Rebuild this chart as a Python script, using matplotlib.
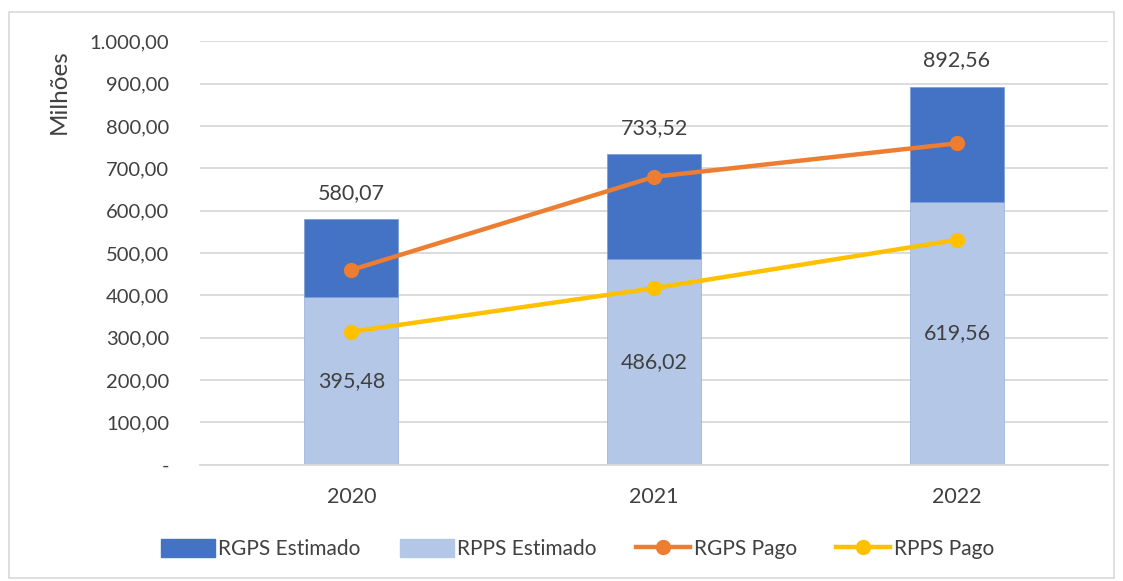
import matplotlib.pyplot as plt
from matplotlib.patches import Rectangle
from matplotlib.lines import Line2D
from matplotlib.ticker import FuncFormatter
import numpy as np

plt.rcParams['font.family'] = ['Lato', 'DejaVu Sans']

# data
anos = ['2020', '2021', '2022']
rpps_estimado = [395.48, 486.02, 619.56]
total_estimado = [580.07, 733.52, 892.56]
rgps_pago = [460, 680, 759]
rpps_pago = [314, 417, 531]

rgps_estimado = [t - r for t, r in zip(total_estimado, rpps_estimado)]

c_rgps = '#4472C4'
c_rpps = '#B4C7E7'
c_rgps_pago = '#ED7D31'
c_rpps_pago = '#FFC000'
txt = '#404040'

def br(v, pos=None):
    if v == 0:
        return '-'
    s = '{:,.2f}'.format(v)
    return s.replace(',', 'X').replace('.', ',').replace('X', '.')

fig = plt.figure(figsize=(11.23, 5.81), dpi=100)
ax = fig.add_axes([0.178, 0.2, 0.809, 0.729])

# border around chart area
fig.patches.append(Rectangle((0.008, 0.006), 0.984, 0.973, transform=fig.transFigure,
                             fill=False, edgecolor='#d9d9d9', linewidth=1.2))

x = np.arange(len(anos))
w = 0.31
ax.bar(x, rpps_estimado, w, color=c_rpps, zorder=2, edgecolor='#9fb6df', linewidth=0.6)
ax.bar(x, rgps_estimado, w, bottom=rpps_estimado, color=c_rgps, zorder=2,
       edgecolor='#7f9fd6', linewidth=0.6)
ax.plot(x, rgps_pago, color=c_rgps_pago, lw=3.2, marker='o', ms=10, zorder=3)
ax.plot(x, rpps_pago, color=c_rpps_pago, lw=3.2, marker='o', ms=10, zorder=3)

# labels
for i in range(len(anos)):
    ax.annotate(br(total_estimado[i]), (x[i], total_estimado[i]), xytext=(0, 19),
                textcoords='offset points', ha='center', va='center', fontsize=15.5, color=txt)
    ax.text(x[i], rpps_estimado[i] / 2, br(rpps_estimado[i]), ha='center', va='center',
            fontsize=15.5, color=txt, zorder=4)

ax.set_ylim(0, 1000)
ax.set_xlim(-0.5, 2.5)
ax.set_yticks(np.arange(0, 1001, 100))
ax.yaxis.set_major_formatter(FuncFormatter(br))
ax.set_xticks(x)
ax.set_xticklabels(anos)
ax.tick_params(length=0, colors=txt)
ax.tick_params(axis='x', pad=16, labelsize=15.5)
ax.tick_params(axis='y', pad=22, labelsize=14.5)
ax.grid(axis='y', color='#d9d9d9', lw=1.3, zorder=0)
for s in ['top', 'right', 'left']:
    ax.spines[s].set_visible(False)
ax.spines['bottom'].set_color('#d9d9d9')
ax.spines['bottom'].set_linewidth(1.3)

ax.set_ylabel('Milhões', fontsize=17.5, color=txt)
ax.yaxis.set_label_coords(-0.143, 0.88)

handles = [
    Rectangle((0, 0), 1, 1, color=c_rgps),
    Rectangle((0, 0), 1, 1, color=c_rpps),
    Line2D([], [], color=c_rgps_pago, lw=3.2, marker='o', ms=10),
    Line2D([], [], color=c_rpps_pago, lw=3.2, marker='o', ms=10),
]
fig.legend(handles, ['RGPS Estimado', 'RPPS Estimado', 'RGPS Pago', 'RPPS Pago'],
           loc='center', bbox_to_anchor=(0.514, 0.055), ncol=4, frameon=False,
           fontsize=15, labelcolor=txt, handlelength=2.6, handleheight=0.9,
           handletextpad=0.15, columnspacing=1.9)

plt.savefig('out.png', dpi=100)
